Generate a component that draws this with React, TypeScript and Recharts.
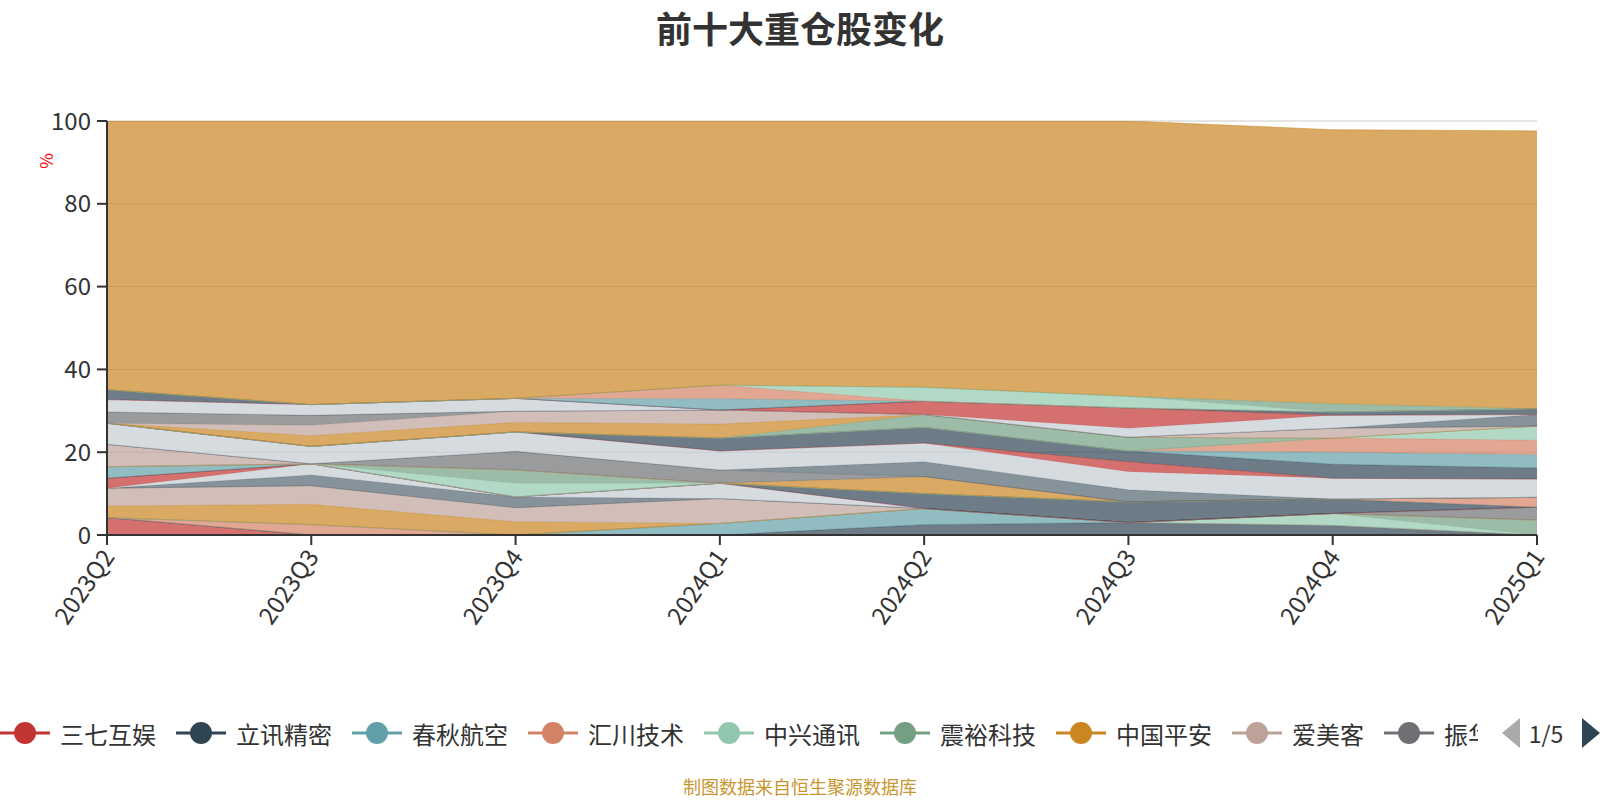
import React from "react";
import { Area, AreaChart, CartesianGrid, XAxis, YAxis } from "recharts";

const quarters = ["2023Q2", "2023Q3", "2023Q4", "2024Q1", "2024Q2", "2024Q3", "2024Q4", "2025Q1"];

const stockNames = [
  "三七互娱", "立讯精密", "春秋航空", "汇川技术", "中兴通讯", "震裕科技", "中国平安", "爱美客", "振华科技", "鹏鼎控股",
  "科博达", "伯特利", "海尔智家", "美的集团", "宁德时代", "贵州茅台", "五粮液", "招商银行", "东方财富", "迈瑞医疗",
  "恒瑞医药", "比亚迪", "隆基绿能", "紫金矿业", "万华化学", "长江电力", "中国移动", "工业富联", "北方华创", "中微公司",
  "兆易创新", "韦尔股份", "澜起科技", "福耀玻璃", "海康威视", "格力电器", "伊利股份", "药明康德", "中际旭创", "其他",
];

// 占比(%),每行一只股票,按季度排列
const shares: number[][] = [
  [4.2, 0, 0, 0, 0, 0, 0, 0],
  [0, 0, 0, 0, 2.5, 3.0, 2.3, 0],
  [0, 0, 0, 2.8, 3.9, 0, 0, 0],
  [0, 2.5, 0, 0, 0, 0, 0, 0],
  [0, 0, 0, 0, 0, 0, 2.9, 0],
  [0, 0, 0, 0, 0, 0, 0, 3.6],
  [2.8, 4.9, 3.2, 0, 0, 0, 0, 0],
  [4.3, 4.5, 3.4, 6.0, 0, 0, 0, 0],
  [0, 0, 0, 0, 0, 0, 0, 3.1],
  [0, 2.6, 2.6, 0, 0, 0, 0, 0],
  [0, 2.7, 0, 3.7, 0, 0, 0, 0],
  [2.4, 0, 0, 0, 0, 0, 0, 0],
  [0, 0, 0, 0, 3.6, 5.0, 3.5, 0],
  [2.8, 0, 0, 0, 0, 0, 0, 0],
  [0, 0, 0, 0, 0, 0, 0, 2.4],
  [0, 0, 3.3, 0, 0, 0, 0, 0],
  [0, 0, 3.2, 0, 0, 0, 0, 0],
  [0, 0, 0, 0, 4.1, 0, 0, 0],
  [5.4, 0, 0, 0, 0, 0, 0, 0],
  [0, 0, 4.5, 3.2, 0, 0, 0, 0],
  [0, 0, 0, 0, 3.6, 2.9, 0, 0],
  [5.1, 4.2, 4.7, 4.6, 4.5, 4.4, 5.0, 4.4],
  [0, 0, 0, 0, 0, 2.4, 0, 0],
  [0, 0, 0, 3.1, 3.8, 2.6, 3.4, 2.7],
  [0, 0, 0, 0, 0, 0, 2.9, 3.2],
  [0, 0, 0, 0, 0, 0, 3.4, 3.5],
  [0, 0, 0, 0, 0, 0, 0, 3.4],
  [0, 0, 0, 0, 3.1, 3.3, 0, 0],
  [0, 2.6, 2.3, 3.4, 0, 0, 0, 0],
  [0, 2.5, 2.7, 3.4, 0, 0, 2.4, 0],
  [2.7, 2.4, 0, 0, 0, 0, 0, 0],
  [0, 0, 0, 0, 0, 0, 0, 2.8],
  [3.0, 2.6, 3.1, 0, 0, 2.2, 3.1, 0],
  [0, 0, 0, 0, 3.2, 4.9, 0, 0],
  [2.4, 0, 0, 0, 0, 0, 0.8, 1.4],
  [0, 0, 0, 2.7, 0, 0, 0, 0],
  [0, 0, 0, 3.3, 0, 0, 0, 0],
  [0, 0, 0, 0, 3.4, 2.8, 0, 0],
  [0, 0, 0, 0, 0, 0, 2.0, 0],
  [64.9, 68.5, 67.0, 63.8, 64.3, 66.5, 66.2, 67.1],
];

const yTicks = [0, 20, 40, 60, 80, 100];

const PALETTE = ["#c23531", "#2f4554", "#61a0a8", "#d48265", "#91c7ae", "#749f83", "#ca8622", "#bda29a", "#6e7074", "#546570", "#c4ccd3"];
const FONT = "'Noto Sans CJK SC', 'Microsoft YaHei', sans-serif";

const data = quarters.map((q, j) => {
  const row: Record<string, string | number> = { quarter: q };
  stockNames.forEach((name, i) => {
    row[name] = shares[i][j];
  });
  return row;
});

function XTick({ x, y, payload }: any) {
  return (
    <text
      x={x}
      y={y}
      transform={`rotate(-55, ${x}, ${y})`}
      textAnchor="end"
      dominantBaseline="central"
      fontSize={24}
      fill="#333"
      fontFamily={FONT}
    >
      {payload.value}
    </text>
  );
}

function LegendBar() {
  let cursor = 0;
  const items = stockNames.slice(0, 9).map((name, i) => {
    const left = cursor;
    cursor += 60 + name.length * 24 + 20;
    const color = PALETTE[i % PALETTE.length];
    return (
      <g key={name}>
        <line x1={left} x2={left + 50} y1={733} y2={733} stroke={color} strokeWidth={3} />
        <circle cx={left + 25} cy={733} r={11} fill={color} />
        <text x={left + 60} y={733} dominantBaseline="central" fontSize={24} fill="#333" fontFamily={FONT}>
          {name}
        </text>
      </g>
    );
  });
  return (
    <g>
      <defs>
        <clipPath id="legendClip">
          <rect x={0} y={700} width={1478} height={70} />
        </clipPath>
      </defs>
      <g clipPath="url(#legendClip)">{items}</g>
      <polygon points="1520,718 1520,748 1502,733" fill="#aaa" />
      <text x={1546} y={733} textAnchor="middle" dominantBaseline="central" fontSize={23} fill="#333" fontFamily={FONT}>
        1/5
      </text>
      <polygon points="1582,718 1582,748 1600,733" fill="#2f4554" />
    </g>
  );
}

export default function App() {
  return (
    <div style={{ position: "absolute", left: 0, top: 0, width: 1600, height: 800, background: "#fff" }}>
      <AreaChart width={1600} height={800} data={data} margin={{ top: 121, right: 63, bottom: 0, left: 0 }}>
        <CartesianGrid vertical={false} stroke="#ccc" />
        <XAxis
          dataKey="quarter"
          height={265}
          tickSize={10}
          tickMargin={6}
          tick={<XTick />}
          interval={0}
          axisLine={{ stroke: "#333", strokeWidth: 2 }}
          tickLine={{ stroke: "#333", strokeWidth: 2 }}
        />
        <YAxis
          width={107}
          domain={[0, 100]}
          ticks={yTicks}
          allowDataOverflow
          tickSize={10}
          tickMargin={6}
          tick={{ fontSize: 24, fill: "#333", fontFamily: FONT }}
          axisLine={{ stroke: "#333", strokeWidth: 2 }}
          tickLine={{ stroke: "#333", strokeWidth: 2 }}
        />
        {stockNames.map((name, i) => (
          <Area
            key={name}
            type="linear"
            dataKey={name}
            stackId="holdings"
            stroke={PALETTE[i % PALETTE.length]}
            strokeWidth={1}
            strokeOpacity={0.5}
            fill={PALETTE[i % PALETTE.length]}
            fillOpacity={0.7}
            dot={false}
            activeDot={false}
            isAnimationActive={false}
          />
        ))}
      </AreaChart>
      <svg width={1600} height={800} style={{ position: "absolute", left: 0, top: 0, pointerEvents: "none" }}>
        <text x={800} y={27} textAnchor="middle" dominantBaseline="central" fontSize={36} fontWeight="bold" fill="#333" fontFamily={FONT}>
          前十大重仓股变化
        </text>
        <text x={45} y={161} transform="rotate(-90, 45, 161)" textAnchor="middle" dominantBaseline="central" fontSize={17} fill="#f00" fontFamily={FONT}>
          %
        </text>
        <LegendBar />
        <text x={800} y={786} textAnchor="middle" dominantBaseline="central" fontSize={18} fill="#c8962f" fontFamily={FONT}>
          制图数据来自恒生聚源数据库
        </text>
      </svg>
    </div>
  );
}
